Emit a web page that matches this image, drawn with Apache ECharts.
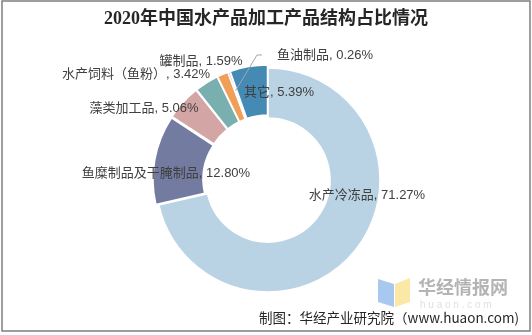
<!DOCTYPE html>
<html>
<head>
<meta charset="utf-8">
<script src="https://cdn.jsdelivr.net/npm/echarts@6/dist/echarts.min.js"></script>
<style>
  html, body { margin: 0; padding: 0; background: #fff; }
  #chart { width: 532px; height: 335px; }
</style>
</head>
<body>
<div id="chart"></div>
<script>
// Product categories of processed aquatic products, 2020 (share, %)
var categories = ['水产冷冻品', '鱼糜制品及干腌制品', '藻类加工品', '水产饲料（鱼粉）', '罐制品', '鱼油制品', '其它'];
var shares = [71.27, 12.80, 5.06, 3.42, 1.59, 0.26, 5.39];
var colors = ['#B9D3E5', '#737CA0', '#D3A5A4', '#79AFAE', '#F09F58', '#9C7FB0', '#4589B5'];

var titleText = '2020年中国水产品加工产品结构占比情况';
var sourceText = '制图：华经产业研究院（www.huaon.com)';

// ring geometry
var CX = 268, CY = 180, R_IN = 62, R_OUT = 112;

// label anchor points (centre of each label text)
var labelSpots = {
  '水产冷冻品': [367, 195],
  '鱼糜制品及干腌制品': [166, 173],
  '藻类加工品': [144, 108],
  '水产饲料（鱼粉）': [136, 74],
  '罐制品': [201, 61],
  '鱼油制品': [325, 55],
  '其它': [279, 92]
};

var pieData = categories.map(function (name, i) {
  return {
    name: name,
    value: shares[i],
    selected: i !== 0,
    itemStyle: { color: colors[i] }
  };
});

var fontFamily = '"Liberation Sans", "Noto Sans CJK SC", sans-serif';

// data labels, one per slice, text built from the same values
var labelGraphics = categories.map(function (name, i) {
  var spot = labelSpots[name];
  return {
    type: 'text',
    x: spot[0],
    y: spot[1],
    style: {
      text: name + ', ' + shares[i].toFixed(2) + '%',
      fill: '#404040',
      font: '13px ' + fontFamily,
      textAlign: 'center',
      textVerticalAlign: 'middle'
    },
    z: 10
  };
});

// leader line for the thin "鱼油制品" slice, anchored at its mid angle
(function () {
  var idx = categories.indexOf('鱼油制品');
  var total = shares.reduce(function (a, b) { return a + b; }, 0);
  var before = 0;
  for (var i = 0; i < idx; i++) before += shares[i];
  var mid = (before + shares[idx] / 2) / total * Math.PI * 2;
  var r = 95;
  var px = CX + r * Math.sin(mid);
  var py = CY - r * Math.cos(mid);
  var spot = labelSpots['鱼油制品'];
  labelGraphics.push({
    type: 'polyline',
    shape: { points: [[px, py], [spot[0] - 68, spot[1]], [spot[0] - 63, spot[1]]] },
    style: { stroke: '#a6a6a6', lineWidth: 1, fill: 'none' },
    z: 10
  });
})();

var chart = echarts.init(document.getElementById('chart'), null, { renderer: 'canvas' });

chart.setOption({
  backgroundColor: '#fff',
  animation: false,
  title: {
    text: titleText,
    left: 'center',
    top: 5,
    textStyle: {
      fontFamily: '"Liberation Serif", "Noto Sans CJK SC", serif',
      fontWeight: 'bold',
      fontSize: 18,
      color: '#262626'
    }
  },
  graphic: [
    {
      type: 'rect',
      shape: { x: 2, y: 1, width: 528, height: 330 },
      style: { fill: 'none', stroke: '#7f7f7f', lineWidth: 1.5 },
      z: 100
    },
    // watermark emblem
    {
      type: 'polygon',
      shape: { points: [[378, 279], [394, 284], [394, 307], [378, 302]] },
      style: { fill: '#A8C8F0' },
      z: 1
    },
    {
      type: 'polygon',
      shape: { points: [[395, 284], [410, 278], [410, 302], [395, 307]] },
      style: { fill: '#FBE7A6' },
      z: 1
    },
    {
      type: 'text',
      left: 418, top: 278,
      style: {
        text: '华经情报网',
        fill: '#b4b4b4',
        font: 'bold 18px "Noto Sans CJK SC", sans-serif'
      },
      z: 1
    },
    {
      type: 'text',
      left: 420, top: 300,
      style: {
        text: 'h u a o n . c o m',
        fill: '#e0e0e0',
        font: '10px "Liberation Sans", sans-serif'
      },
      z: 1
    },
    {
      type: 'text',
      right: 13, top: 311,
      style: {
        text: sourceText,
        fill: '#262626',
        font: '13.5px "Noto Sans CJK SC", "Liberation Sans", sans-serif'
      },
      z: 5
    }
  ].concat(labelGraphics),
  series: [{
    type: 'pie',
    center: [CX, CY],
    radius: [R_IN, R_OUT],
    startAngle: 90,
    clockwise: true,
    selectedMode: 'multiple',
    selectedOffset: 3,
    itemStyle: { borderColor: '#fff', borderWidth: 1.5 },
    select: { itemStyle: { borderColor: '#fff', borderWidth: 1.5 } },
    emphasis: { disabled: true },
    label: { show: false },
    labelLine: { show: false },
    data: pieData
  }]
});
</script>
</body>
</html>
